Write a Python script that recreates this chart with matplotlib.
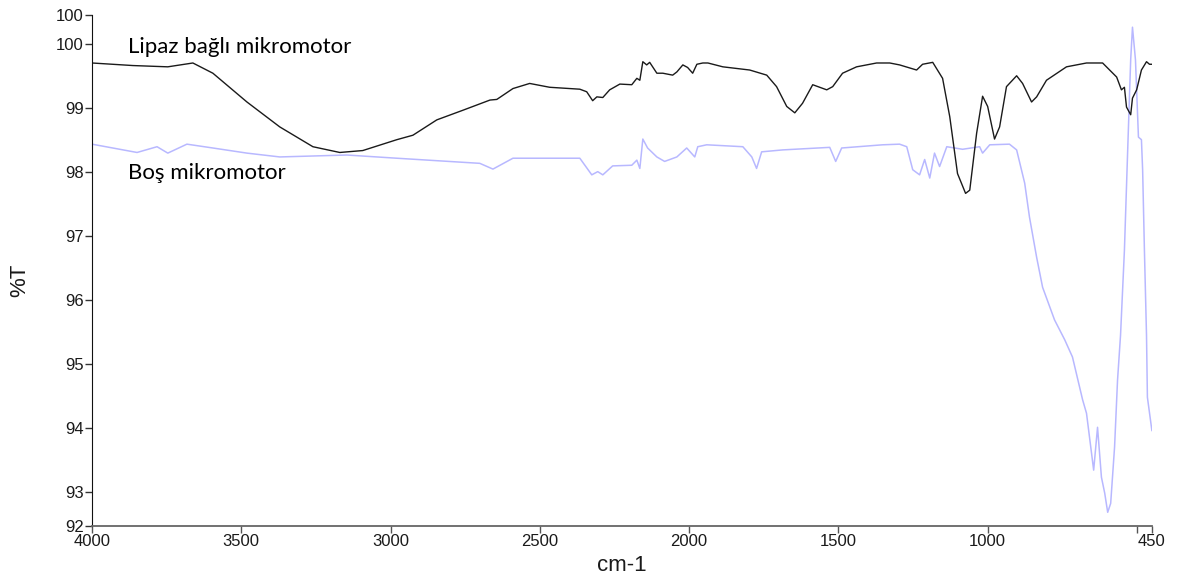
import numpy as np
import matplotlib.pyplot as plt

# FTIR spectra (wavenumber cm-1, %T)
lipaz_wn = [4000, 3863, 3746, 3662, 3595, 3481, 3371, 3260, 3170, 3093, 2979, 2925,
            2845, 2758, 2667, 2644, 2590, 2534, 2467, 2366, 2343, 2323, 2309, 2289,
            2266, 2232, 2192, 2175, 2165, 2155, 2142, 2132, 2108, 2088, 2055, 2041,
            2021, 2005, 1988, 1974, 1954, 1937, 1887, 1797, 1740, 1707, 1673, 1646,
            1620, 1586, 1539, 1519, 1486, 1439, 1372, 1328, 1295, 1238, 1218, 1184,
            1151, 1127, 1101, 1074, 1060, 1037, 1017, 1000, 977, 960, 937, 903, 883,
            853, 836, 803, 736, 669, 615, 568, 552, 542, 535, 521, 515, 501, 485,
            468, 458, 450]
lipaz_t = [99.71, 99.67, 99.65, 99.71, 99.55, 99.10, 98.71, 98.40, 98.31, 98.34, 98.51, 98.58,
           98.82, 98.97, 99.13, 99.14, 99.31, 99.39, 99.33, 99.30, 99.26, 99.12, 99.18, 99.17,
           99.29, 99.38, 99.37, 99.47, 99.44, 99.73, 99.68, 99.72, 99.55, 99.55, 99.52, 99.57,
           99.68, 99.64, 99.55, 99.69, 99.71, 99.71, 99.65, 99.60, 99.52, 99.34, 99.03, 98.93,
           99.08, 99.37, 99.29, 99.34, 99.55, 99.65, 99.71, 99.71, 99.68, 99.60, 99.69, 99.72,
           99.47, 98.87, 97.98, 97.67, 97.72, 98.61, 99.19, 99.03, 98.52, 98.71, 99.34, 99.51, 99.39,
           99.10, 99.18, 99.44, 99.65, 99.71, 99.71, 99.49, 99.29, 99.33, 99.02, 98.90, 99.16, 99.29, 99.60,
           99.73, 99.69, 99.69]

bos_wn = [4000, 3849, 3782, 3746, 3682, 3595, 3481, 3371, 3146, 2979, 2701, 2657, 2590,
          2477, 2366, 2326, 2306, 2289, 2256, 2192, 2175, 2165, 2155, 2139, 2108, 2082,
          2041, 2008, 1981, 1971, 1941, 1820, 1790, 1774, 1757, 1687, 1529, 1509, 1489,
          1352, 1295, 1271, 1251, 1228, 1211, 1194, 1178, 1161, 1137, 1084, 1027, 1017,
          993, 927, 903, 876, 860, 836, 816, 776, 742, 716, 682, 669, 659, 645, 632, 619,
          608, 598, 588, 575, 565, 555, 542, 531, 521, 515, 505, 495, 485, 481, 475, 468,
          465, 450]
bos_t = [98.44, 98.31, 98.40, 98.30, 98.44, 98.38, 98.30, 98.24, 98.27, 98.22, 98.14, 98.05, 98.22,
         98.22, 98.22, 97.96, 98.01, 97.96, 98.10, 98.11, 98.19, 98.06, 98.52, 98.38, 98.24, 98.17,
         98.24, 98.38, 98.24, 98.40, 98.43, 98.40, 98.24, 98.06, 98.32, 98.35, 98.39, 98.17, 98.38,
         98.43, 98.44, 98.40, 98.04, 97.96, 98.20, 97.91, 98.30, 98.09, 98.40, 98.36, 98.40, 98.30,
         98.43, 98.44, 98.35, 97.83, 97.30, 96.67, 96.20, 95.69, 95.38, 95.11, 94.44, 94.23, 93.86,
         93.34, 94.01, 93.23, 92.98, 92.68, 92.82, 93.70, 94.75, 95.45, 96.78, 98.35, 99.76, 100.27,
         99.76, 98.55, 98.51, 98.04, 96.78, 95.45, 94.48, 93.96]

x_ticks = [4000, 3500, 3000, 2500, 2000, 1500, 1000, 500, 450]
x_labels = ['4000', '3500', '3000', '2500', '2000', '1500', '1000', '', '450']
y_min, y_max = 92.47, 100.46
y_ticks = [y_min, 93, 94, 95, 96, 97, 98, 99, 100, y_max]
y_labels = ['92', '93', '94', '95', '96', '97', '98', '99', '100', '100']

fig = plt.figure(figsize=(11.79, 5.79), dpi=100)
ax = fig.add_axes([0.078, 0.092, 0.899, 0.882])

ax.plot(bos_wn, bos_t, color='#b8b8ff', lw=1.1)
ax.plot(lipaz_wn, lipaz_t, color='#1a1a1a', lw=1.0)

ax.set_xlim(4000, 450)
ax.set_ylim(y_min, y_max)

ax.set_xticks(x_ticks)
ax.set_xticklabels(x_labels, fontsize=12, color='#1a1a1a', family='Liberation Sans')
ax.set_yticks(y_ticks)
ax.set_yticklabels(y_labels, fontsize=12, color='#1a1a1a', family='Liberation Sans')
ax.tick_params(axis='x', length=5, width=1, color='#555555', pad=1)
ax.tick_params(axis='y', length=5, width=1, color='#333333', pad=1)

for s in ['top', 'right']:
    ax.spines[s].set_visible(False)
ax.spines['left'].set_color('#111111')
ax.spines['bottom'].set_color('#666666')
ax.spines['bottom'].set_linewidth(1.3)

ax.set_xlabel('cm-1', fontsize=16, family='Liberation Sans', color='#1a1a1a', labelpad=4)
ax.set_ylabel('%T', fontsize=16, family='Liberation Sans', color='#1a1a1a')
ax.yaxis.set_label_coords(-0.058, 0.48)

ax.text(3879, 99.96, 'Lipaz bağlı mikromotor', fontsize=16, family='Lato',
        ha='left', va='center', color='black')
ax.text(3879, 97.99, 'Boş mikromotor', fontsize=16, family='Lato',
        ha='left', va='center', color='black')

plt.savefig('out.png', dpi=100)
